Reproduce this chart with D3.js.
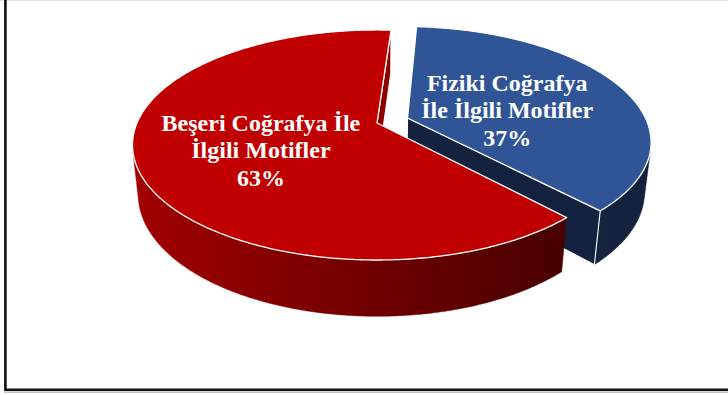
<!DOCTYPE html>
<html>
<head>
<meta charset="utf-8">
<script src="https://cdn.jsdelivr.net/npm/d3@7"></script>
<style>
  html, body { margin: 0; padding: 0; background: #ffffff; }
  svg { display: block; }
</style>
</head>
<body>
<div id="chart"></div>
<script>
// Two-slice 3D pie: share of motifs by geography branch
const categories = ["Fiziki Coğrafya İle İlgili Motifler", "Beşeri Coğrafya İle İlgili Motifler"];
const labelLines = [["Fiziki Coğrafya", "İle İlgili Motifler"], ["Beşeri Coğrafya İle", "İlgili Motifler"]];
const shares = [37, 63];
const explode = [0.136, 0];
const topColors = ["#2f5597", "#c00000"];
const sideColorsFrom = ["#15233f", "#a20000"];
const sideColorsTo = ["#14213d", "#470000"];
const cutColors = ["#142240", "#8e0000"];

const W = 728, H = 395;

// Perspective camera for the tilted disk
const ALPHA = 27.5 * Math.PI / 180;   // elevation of the view
const DIST = 4.64;                    // camera distance, in pie radii
const FOCAL = 240;                    // pixels per pie radius at the centre
const CX = 377, CY = 123;             // projected pie centre (top face)
const THICK = 0.235;                  // pie thickness, in pie radii
const sinA = Math.sin(ALPHA), cosA = Math.cos(ALPHA);
const camera = [0, -DIST * cosA, DIST * sinA];

function proj(u, v, h) {
  const yc = v * sinA + h * cosA;
  const zc = v * cosA - h * sinA;
  const k = 1 + zc / DIST;
  return [CX + FOCAL * u / k, CY - FOCAL * yc / k];
}
function faces(n, p) {
  return n[0] * (camera[0] - p[0]) + n[1] * (camera[1] - p[1]) + n[2] * (camera[2] - p[2]) > 0;
}

const svg = d3.select("#chart").append("svg")
  .attr("width", W).attr("height", H)
  .attr("viewBox", `0 0 ${W} ${H}`);

const defs = svg.append("defs");

const pie = d3.pie().sort(null)
  .startAngle(4 * Math.PI / 180)
  .endAngle(4 * Math.PI / 180 + 2 * Math.PI);
const arcs = pie(shares);

const line = d3.line();
const step = Math.PI / 360;

function rimSamples(a0, a1) {
  const n = Math.max(2, Math.ceil((a1 - a0) / step));
  return d3.range(n + 1).map(i => a0 + (a1 - a0) * i / n);
}

const g = svg.append("g");

arcs.forEach((d, i) => {
  const mid = (d.startAngle + d.endAngle) / 2;
  const ox = explode[i] * Math.sin(mid), oy = explode[i] * Math.cos(mid);
  const rim = (a, h) => proj(ox + Math.sin(a), oy + Math.cos(a), h);
  const apex = h => proj(ox, oy, h);
  const angles = rimSamples(d.startAngle, d.endAngle);

  // outer curved side, visible part only
  const vis = angles.filter(a => faces([Math.sin(a), Math.cos(a), 0],
    [ox + Math.sin(a), oy + Math.cos(a), -THICK / 2]));
  if (vis.length > 1) {
    const topPts = vis.map(a => rim(a, 0));
    const botPts = vis.map(a => rim(a, -THICK)).reverse();
    const xs = topPts.map(p => p[0]);
    const gid = "side" + i;
    const grad = defs.append("linearGradient").attr("id", gid)
      .attr("gradientUnits", "userSpaceOnUse")
      .attr("x1", d3.min(xs)).attr("x2", d3.max(xs)).attr("y1", 0).attr("y2", 0);
    grad.append("stop").attr("offset", 0).attr("stop-color", sideColorsFrom[i]);
    grad.append("stop").attr("offset", 1).attr("stop-color", sideColorsTo[i]);
    g.append("path")
      .attr("d", line(topPts.concat(botPts)) + "Z")
      .attr("fill", `url(#${gid})`)
      .attr("stroke", `url(#${gid})`).attr("stroke-width", 0.5);
  }

  // flat cut faces along the two radii
  [[d.startAngle, -1], [d.endAngle, 1]].forEach(([a, dir]) => {
    const n = dir < 0 ? [-Math.cos(a), Math.sin(a), 0] : [Math.cos(a), -Math.sin(a), 0];
    const p = [ox + Math.sin(a) / 2, oy + Math.cos(a) / 2, -THICK / 2];
    if (!faces(n, p)) return;
    const quad = [apex(0), rim(a, 0), rim(a, -THICK), apex(-THICK)];
    g.append("path")
      .attr("d", line(quad) + "Z")
      .attr("fill", cutColors[i])
      .attr("stroke", "#ffffff").attr("stroke-width", 1.1)
      .attr("stroke-linejoin", "round");
  });

  // top face
  const topPts = [apex(0)].concat(angles.map(a => rim(a, 0)));
  g.append("path")
    .attr("d", line(topPts) + "Z")
    .attr("fill", topColors[i])
    .attr("stroke", "#ffffff").attr("stroke-width", 1.3)
    .attr("stroke-linejoin", "round");
});

// data labels
const labelRadius = 0.48;
const lineGap = 27.5;
arcs.forEach((d, i) => {
  const mid = (d.startAngle + d.endAngle) / 2;
  const ox = explode[i] * Math.sin(mid), oy = explode[i] * Math.cos(mid);
  let [lx, ly] = proj(ox + labelRadius * Math.sin(mid), oy + labelRadius * Math.cos(mid), 0);
  lx -= 4;
  const total = d3.sum(shares);
  const lines = labelLines[i].concat([Math.round(d.data / total * 100) + "%"]);
  const t = svg.append("text")
    .attr("x", lx).attr("y", ly + 17 - lineGap)
    .attr("text-anchor", "middle")
    .attr("fill", "#ffffff")
    .attr("font-family", "'Liberation Serif', 'Times New Roman', serif")
    .attr("font-weight", "bold")
    .attr("font-size", 24);
  lines.forEach((s, k) => {
    t.append("tspan").attr("x", lx).attr("dy", k === 0 ? 0 : lineGap).text(s);
  });
});

// chart frame
svg.append("line").attr("x1", 0).attr("x2", W).attr("y1", 0.5).attr("y2", 0.5)
  .attr("stroke", "#e3e3e3").attr("stroke-width", 1);
svg.append("line").attr("x1", 4).attr("x2", W).attr("y1", 392.3).attr("y2", 392.3)
  .attr("stroke", "#b5b5b5").attr("stroke-width", 1);
svg.append("rect")
  .attr("x", 5.4).attr("y", -10).attr("width", W + 20).attr("height", 399.8)
  .attr("fill", "none").attr("stroke", "#111111").attr("stroke-width", 2.6);
</script>
</body>
</html>
